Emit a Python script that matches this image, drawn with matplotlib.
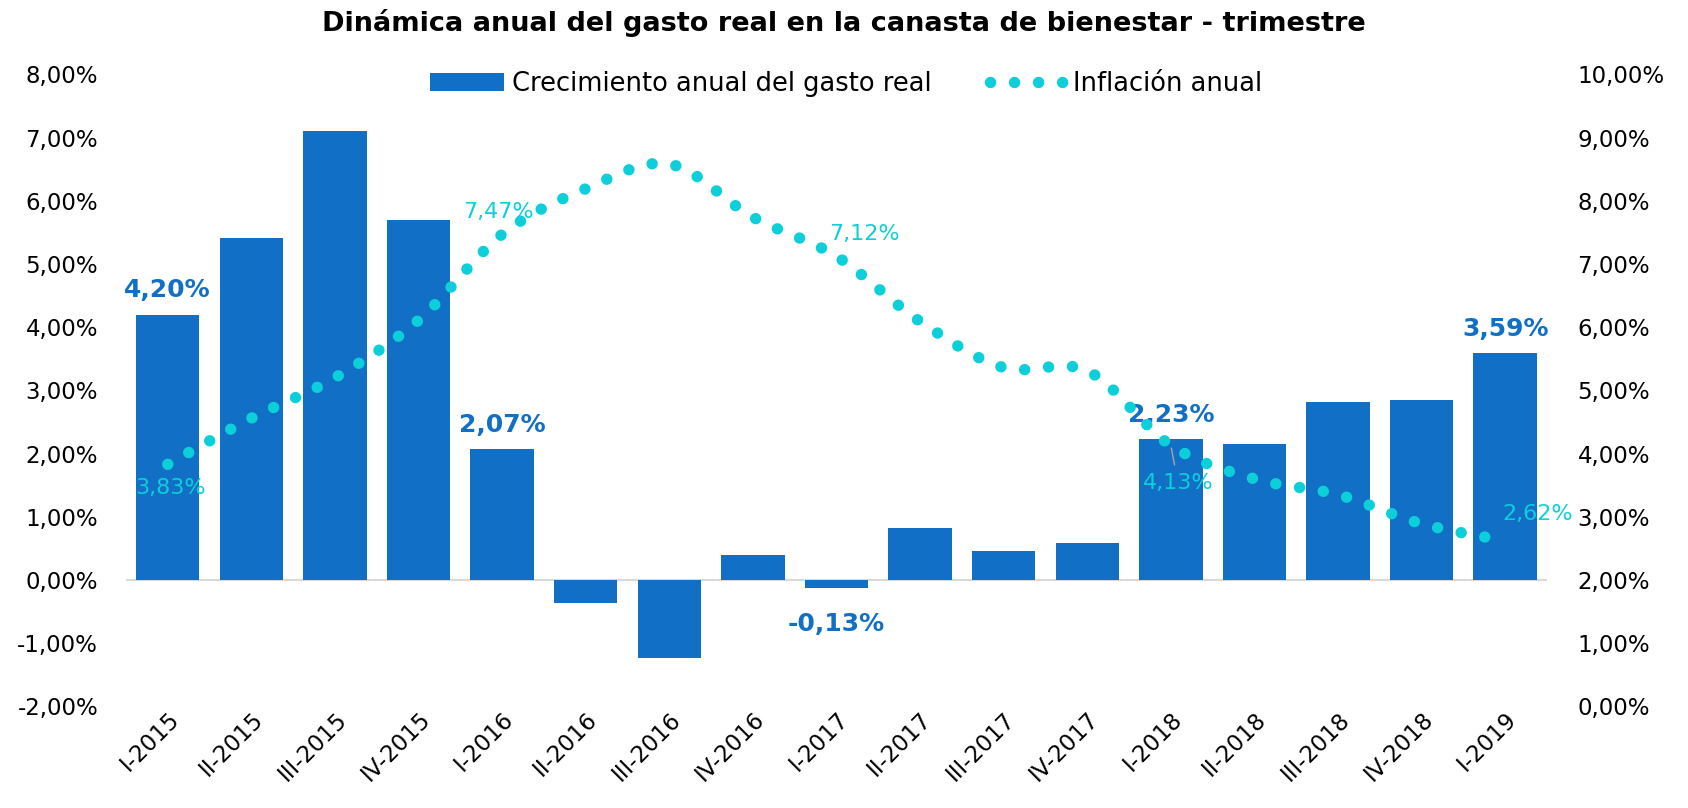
#!/usr/bin/env python3
# -*- coding: utf-8 -*-
"""
Dinámica anual del gasto real en la canasta de bienestar - trimestre
Bars: real spending growth (left axis), smoothed dotted line: inflation (right axis)
"""

import matplotlib
matplotlib.use("Agg")
import matplotlib.pyplot as plt
from matplotlib.path import Path
from matplotlib.patches import PathPatch, Patch
from matplotlib.lines import Line2D
from matplotlib.ticker import FuncFormatter


# Data
QUARTERS = ['I-2015', 'II-2015', 'III-2015', 'IV-2015',
            'I-2016', 'II-2016', 'III-2016', 'IV-2016',
            'I-2017', 'II-2017', 'III-2017', 'IV-2017',
            'I-2018', 'II-2018', 'III-2018', 'IV-2018', 'I-2019']
GASTO_REAL = [4.20, 5.41, 7.11, 5.69, 2.07, -0.36, -1.23, 0.39,
              -0.13, 0.82, 0.46, 0.58, 2.23, 2.15, 2.82, 2.85, 3.59]
INFLACION = [3.83, 4.56, 5.20, 6.11, 7.47, 8.19, 8.58, 7.74,
             7.12, 6.09, 5.36, 5.31, 4.13, 3.60, 3.35, 2.89, 2.62]
LABELED = [0, 4, 8, 12, 16]

TITLE = 'Dinámica anual del gasto real en la canasta de bienestar - trimestre'
BAR_NAME = 'Crecimiento anual del gasto real'
LINE_NAME = 'Inflación anual'

BLUE = '#1170C6'
CYAN = '#0DCFD9'


def pct(v, _pos=None):
    return f'{v:.2f}%'.replace('.', ',')


def smooth_path(xs, ys):
    """Bezier path through the points (Excel-like smoothed line)"""
    pts = list(zip(xs, ys))
    verts = [pts[0]]
    codes = [Path.MOVETO]
    n = len(pts)
    for i in range(n - 1):
        p0 = pts[i - 1] if i > 0 else pts[i]
        p1 = pts[i]
        p2 = pts[i + 1]
        p3 = pts[i + 2] if i + 2 < n else pts[i + 1]
        c1 = (p1[0] + (p2[0] - p0[0]) / 6, p1[1] + (p2[1] - p0[1]) / 6)
        c2 = (p2[0] - (p3[0] - p1[0]) / 6, p2[1] - (p3[1] - p1[1]) / 6)
        verts += [c1, c2, p2]
        codes += [Path.CURVE4] * 3
    return Path(verts, codes)


plt.rcParams['font.family'] = ['DejaVu Sans']

fig = plt.figure(figsize=(16.88, 8.08), dpi=100)
ax = fig.add_axes([0.0746, 0.1257, 0.8419, 0.7823])
ax2 = ax.twinx()

x = list(range(len(QUARTERS)))
ax.bar(x, GASTO_REAL, width=0.76, color=BLUE, zorder=2)
ax.axhline(0, color='#D9D9D9', lw=1.5, zorder=1)

ax.set_xlim(-0.5, len(QUARTERS) - 0.5)
ax.set_ylim(-2, 8)
ax.set_yticks(range(-2, 9))
ax.yaxis.set_major_formatter(FuncFormatter(pct))
ax2.set_ylim(0, 10)
ax2.set_yticks(range(0, 11))
ax2.yaxis.set_major_formatter(FuncFormatter(pct))

# Inflation: smoothed, round-dotted line
lw = 8.2
dots = (0, (0.01, 2.1))
patch = PathPatch(smooth_path(x, INFLACION), facecolor='none', edgecolor=CYAN,
                  lw=lw, linestyle=dots, capstyle='round', zorder=3)
ax2.add_patch(patch)

ax.set_xticks(x)
ax.set_xticklabels(QUARTERS, rotation=45, ha='right', rotation_mode='anchor')
for a in (ax, ax2):
    a.tick_params(length=0, labelsize=16.5)
    for s in a.spines.values():
        s.set_visible(False)
ax.tick_params(axis='y', pad=20)
ax2.tick_params(axis='y', pad=22)
ax.tick_params(axis='x', pad=1, labelsize=16.5)

# Bar labels
for i in LABELED:
    v = GASTO_REAL[i]
    if v >= 0:
        ax.annotate(pct(v), (i, v), xytext=(0, 9), textcoords='offset points',
                    ha='center', va='bottom', fontsize=18, fontweight='bold',
                    color=BLUE, zorder=5)
    else:
        ax.annotate(pct(v), (i, v), xytext=(0, -17), textcoords='offset points',
                    ha='center', va='top', fontsize=18, fontweight='bold',
                    color=BLUE, zorder=5)

# Inflation labels (offsets in points)
line_offsets = {0: (2, -10, 'center', 'top'),
                4: (-3, 9, 'center', 'bottom'),
                8: (20, 9, 'center', 'bottom'),
                12: (5, -20, 'center', 'top'),
                16: (23, 12, 'center', 'bottom')}
for i in LABELED:
    dx, dy, ha, va = line_offsets[i]
    ax2.annotate(pct(INFLACION[i]), (i, INFLACION[i]), xytext=(dx, dy),
                 textcoords='offset points', ha=ha, va=va, fontsize=16,
                 color=CYAN, zorder=5)
# leader line for the I-2018 label
ax2.annotate('', (12, INFLACION[12]), xytext=(3, -16), textcoords='offset points',
             arrowprops=dict(arrowstyle='-', color='#A6A6A6', lw=1))

# Legend
handles = [Patch(facecolor=BLUE, edgecolor='none'),
           Line2D([0], [0], color=CYAN, lw=lw, linestyle=dots,
                  dash_capstyle='round')]
fig.legend(handles, [BAR_NAME, LINE_NAME], loc='center',
           bbox_to_anchor=(0.501, 0.896), ncol=2, frameon=False, fontsize=18.5,
           handlelength=2.9, handletextpad=0.3, columnspacing=2.3)

fig.suptitle(TITLE, x=0.5, y=0.972, fontsize=19.5, fontweight='bold', va='center')

plt.savefig('out.png', dpi=100)
plt.close()
